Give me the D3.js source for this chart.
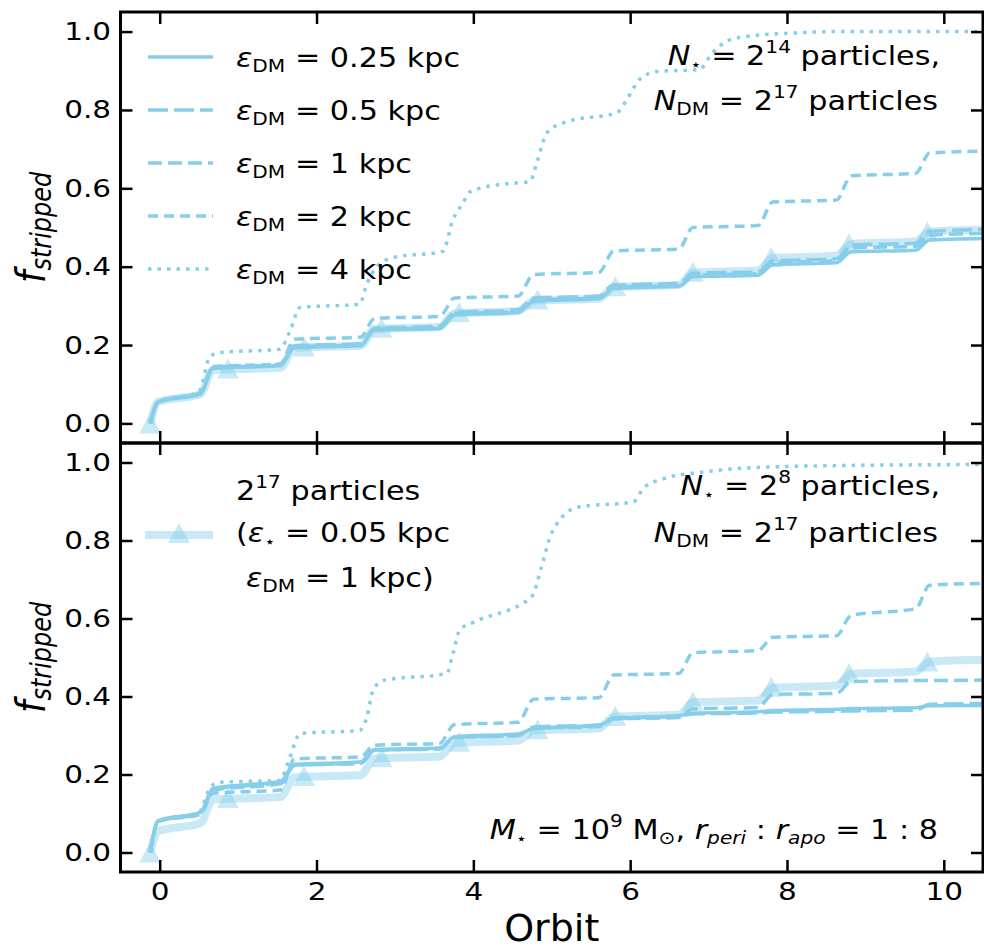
<!DOCTYPE html>
<html>
<head>
<meta charset="utf-8">
<script src="https://cdn.jsdelivr.net/npm/d3@7"></script>
<style>
  body { margin: 0; background: #fff; }
  svg { display: block; font-family: "DejaVu Sans", sans-serif; }
  text { white-space: pre; }
</style>
</head>
<body>
<svg id="chart" width="984" height="949"></svg>
<script>
// orbit positions shared by the step-like curves (start/end of each pericentre jump)
const knotX = [-0.12, -0.02, 0.52, 0.68, 1.54, 1.72, 2.56, 2.74, 3.57, 3.76, 4.57, 4.77,
               5.6, 5.79, 6.62, 6.8, 7.63, 7.82, 8.63, 8.82, 9.64, 9.82, 10.5];

// top panel: N* = 2^14
const topEps025 = [0.0, 0.055, 0.075, 0.14, 0.148, 0.193, 0.198, 0.238, 0.242, 0.277, 0.283, 0.312,
                   0.318, 0.345, 0.35, 0.374, 0.378, 0.405, 0.41, 0.438, 0.442, 0.468, 0.472];
const topEps05  = [0.0, 0.055, 0.078, 0.143, 0.15, 0.198, 0.203, 0.243, 0.248, 0.283, 0.29, 0.32,
                   0.325, 0.353, 0.357, 0.383, 0.387, 0.415, 0.42, 0.455, 0.46, 0.49, 0.495];
const topEps1   = [0.0, 0.055, 0.077, 0.142, 0.148, 0.196, 0.2, 0.24, 0.245, 0.28, 0.285, 0.315,
                   0.32, 0.348, 0.352, 0.378, 0.382, 0.41, 0.415, 0.448, 0.452, 0.48, 0.485];
const topEps2   = [0.0, 0.055, 0.078, 0.145, 0.152, 0.215, 0.22, 0.268, 0.273, 0.32, 0.325, 0.38,
                   0.385, 0.44, 0.445, 0.5, 0.505, 0.565, 0.57, 0.632, 0.638, 0.69, 0.695];
const topEps4X  = [-0.12, -0.02, 0.5, 0.64, 0.77, 1.53, 1.66, 1.79, 2.55, 2.64, 2.77, 2.97, 3.61, 3.74,
                   3.87, 3.95, 4.34, 4.72, 4.81, 4.94, 5.19, 5.83, 5.96, 6.12, 6.34, 6.88, 7.05, 7.23,
                   7.39, 8.16, 8.58, 10.5];
const topEps4Y  = [0.0, 0.055, 0.08, 0.171, 0.181, 0.189, 0.235, 0.296, 0.304, 0.355, 0.40, 0.423,
                   0.439, 0.52, 0.563, 0.59, 0.61, 0.617, 0.666, 0.742, 0.77, 0.793, 0.827, 0.878,
                   0.898, 0.903, 0.946, 0.975, 0.985, 0.997, 1.0, 1.0];

// bottom panel: N* = 2^8
const botEps025 = [0.0, 0.082, 0.103, 0.165, 0.183, 0.226, 0.232, 0.264, 0.268, 0.297, 0.304, 0.318,
                   0.326, 0.343, 0.351, 0.357, 0.361, 0.364, 0.367, 0.369, 0.371, 0.376, 0.377];
const botEps05  = [0.0, 0.08, 0.1, 0.162, 0.18, 0.224, 0.229, 0.262, 0.266, 0.295, 0.3, 0.322,
                   0.327, 0.345, 0.35, 0.355, 0.358, 0.36, 0.362, 0.363, 0.365, 0.38, 0.382];
const botEps1   = [0.0, 0.08, 0.1, 0.16, 0.176, 0.224, 0.228, 0.262, 0.266, 0.296, 0.3, 0.318,
                   0.323, 0.343, 0.346, 0.368, 0.372, 0.405, 0.408, 0.438, 0.441, 0.441, 0.442];
const botEps2   = [0.0, 0.08, 0.098, 0.152, 0.16, 0.24, 0.245, 0.275, 0.28, 0.328, 0.334, 0.393,
                   0.397, 0.455, 0.459, 0.512, 0.518, 0.552, 0.556, 0.608, 0.625, 0.685, 0.69];
const botEps4X  = [-0.12, -0.02, 0.5, 0.64, 0.75, 1.53, 1.66, 1.79, 2.55, 2.64, 2.72, 2.85, 3.66,
                   3.74, 3.83, 4.0, 4.74, 4.87, 5.0, 5.34, 6.04, 6.17, 6.39, 6.99, 8.03, 10.5];
const botEps4Y  = [0.0, 0.082, 0.103, 0.165, 0.18, 0.185, 0.244, 0.305, 0.313, 0.346, 0.415, 0.441,
                   0.459, 0.51, 0.572, 0.59, 0.655, 0.733, 0.82, 0.886, 0.899, 0.934, 0.956, 0.977,
                   0.99, 0.995];

// reference run: 2^17 particles (eps* = 0.05 kpc, epsDM = 1 kpc), same in both panels
const refLevels = [0.0, 0.055, 0.075, 0.136, 0.142, 0.193, 0.198, 0.241, 0.246, 0.281, 0.287, 0.313,
                   0.318, 0.348, 0.353, 0.385, 0.39, 0.422, 0.428, 0.458, 0.464, 0.489, 0.494];
const refMarkX = [-0.12, 0.87, 1.84, 2.83, 3.82, 4.82, 5.81, 6.8, 7.8, 8.79, 9.79];
const refMarkY = [0.0, 0.14, 0.196, 0.244, 0.284, 0.316, 0.35, 0.387, 0.425, 0.46, 0.49];

const xTicks = [0, 2, 4, 6, 8, 10];
const yTicks = [0, 0.2, 0.4, 0.6, 0.8, 1.0];
const epsLabels = ["0.25", "0.5", "1", "2", "4"];

const config = {
    color: "#87ceeb",
    lineWidth: 3.5,
    dashes: ["none", "20,6", "14,6", "10,6", "3.5,6"],
    left: 120.5, right: 983,
    panels: [{top: 12, bottom: 443}, {top: 443, bottom: 872}],
    xDomain: [-0.5, 10.5],
    yDomain: [-0.05, 1.05],
    tickLen: 12,
    textSize: 27,
    stretch: 1.12   // the figure's text is a bit wide
};

const svg = d3.select("#chart");

const rich = (sel, x, y, parts, anchor, size) => {
    const t = sel.append("g")
        .attr("transform", `translate(${x},${y}) scale(${config.stretch},1)`)
        .append("text")
        .attr("text-anchor", anchor || "start")
        .attr("font-size", size || config.textSize)
        .attr("fill", "#000");
    let shift = 0;
    parts.forEach(p => {
        const s = p.shift || 0;
        const ts = t.append("tspan").text(p.t).attr("dy", s - shift);
        if (p.i) ts.attr("font-style", "italic");
        if (p.size) ts.attr("font-size", p.size);
        shift = s;
    });
    return t;
};

const tri = (w, h) => `M0,${-h / 2}L${w / 2},${h / 2}L${-w / 2},${h / 2}Z`;

function drawPanel(idx, steps, dotX, dotY, showXLabels) {
    const p = config.panels[idx];
    const x = d3.scaleLinear().domain(config.xDomain).range([config.left, config.right]);
    const y = d3.scaleLinear().domain(config.yDomain).range([p.bottom, p.top]);
    const g = svg.append("g");

    g.append("clipPath").attr("id", "clip" + idx)
        .append("rect")
        .attr("x", config.left).attr("y", p.top)
        .attr("width", config.right - config.left).attr("height", p.bottom - p.top);

    const line = d3.line()
        .x(d => x(d[0]))
        .y(d => y(d[1]))
        .curve(d3.curveMonotoneX);

    const plot = g.append("g").attr("clip-path", `url(#clip${idx})`);

    // reference run
    plot.append("path")
        .attr("d", line(knotX.map((k, i) => [k, refLevels[i]])))
        .attr("fill", "none")
        .attr("stroke", config.color)
        .attr("stroke-opacity", 0.45)
        .attr("stroke-width", 8);
    plot.selectAll("path.mark")
        .data(refMarkX.map((k, i) => [k, refMarkY[i]]))
        .join("path")
        .attr("class", "mark")
        .attr("transform", d => `translate(${x(d[0])},${y(d[1])})`)
        .attr("d", tri(22, 20))
        .attr("fill", config.color)
        .attr("fill-opacity", 0.45);

    // softening runs
    const series = steps.map(levels => knotX.map((k, i) => [k, levels[i]]));
    series.push(dotX.map((k, i) => [k, dotY[i]]));
    plot.selectAll("path.run")
        .data(series)
        .join("path")
        .attr("class", "run")
        .attr("d", line)
        .attr("fill", "none")
        .attr("stroke", config.color)
        .attr("stroke-width", config.lineWidth)
        .attr("stroke-dasharray", (d, i) => config.dashes[i]);

    // axes, ticks pointing inwards on all four sides
    const styleAxis = a => {
        a.select(".domain").remove();
        a.selectAll(".tick line").attr("stroke", "#000").attr("stroke-width", 2.5);
        a.selectAll(".tick text").attr("fill", "#000")
            .attr("font-size", 25).attr("font-family", "DejaVu Sans, sans-serif")
            .attr("transform", "scale(1.18,1)");
    };
    g.append("g")
        .attr("transform", `translate(0,${p.bottom})`)
        .call(d3.axisBottom(x).tickValues(xTicks).tickSizeInner(-config.tickLen).tickSizeOuter(0)
            .tickPadding(10).tickFormat(showXLabels ? d3.format("d") : () => ""))
        .call(styleAxis);
    g.append("g")
        .attr("transform", `translate(0,${p.top})`)
        .call(d3.axisTop(x).tickValues(xTicks).tickSizeInner(-config.tickLen).tickSizeOuter(0)
            .tickFormat(() => ""))
        .call(styleAxis);
    g.append("g")
        .attr("transform", `translate(${config.left},0)`)
        .call(d3.axisLeft(y).tickValues(yTicks).tickSizeInner(-config.tickLen).tickSizeOuter(0)
            .tickPadding(8).tickFormat(d3.format(".1f")))
        .call(styleAxis);
    g.append("g")
        .attr("transform", `translate(${config.right},0)`)
        .call(d3.axisRight(y).tickValues(yTicks).tickSizeInner(-config.tickLen).tickSizeOuter(0)
            .tickFormat(() => ""))
        .call(styleAxis);

    g.append("rect")
        .attr("x", config.left).attr("y", p.top)
        .attr("width", config.right - config.left).attr("height", p.bottom - p.top)
        .attr("fill", "none").attr("stroke", "#000").attr("stroke-width", 3);

    // y label
    const cy = (p.top + p.bottom) / 2;
    const lab = svg.append("g").attr("transform", `translate(45,${cy}) scale(1.15,1) rotate(-90)`);
    const t = lab.append("text").attr("text-anchor", "middle").attr("font-size", 36).attr("fill", "#000");
    t.append("tspan").text("f").attr("font-style", "italic");
    t.append("tspan").text("stripped").attr("font-style", "italic").attr("font-size", 24).attr("dy", 5);

    return g;
}

const gTop = drawPanel(0, [topEps025, topEps05, topEps1, topEps2], topEps4X, topEps4Y, false);
const gBot = drawPanel(1, [botEps025, botEps05, botEps1, botEps2], botEps4X, botEps4Y, true);

// legend, top panel
epsLabels.forEach((lab, i) => {
    const ly = 57 + 53 * i;
    gTop.append("line")
        .attr("x1", 148).attr("x2", 213).attr("y1", ly).attr("y2", ly)
        .attr("stroke", config.color).attr("stroke-width", config.lineWidth)
        .attr("stroke-dasharray", config.dashes[i]);
    rich(gTop, 236, ly + 10, [{t: "ε", i: 1}, {t: "DM", size: 18, shift: 5}, {t: " = " + lab + " kpc"}]);
});

// legend, bottom panel
gBot.append("line")
    .attr("x1", 145).attr("x2", 213).attr("y1", 535).attr("y2", 535)
    .attr("stroke", config.color).attr("stroke-opacity", 0.45).attr("stroke-width", 8);
gBot.append("path")
    .attr("transform", "translate(179,533)")
    .attr("d", tri(22, 20))
    .attr("fill", config.color).attr("fill-opacity", 0.45);
rich(gBot, 236, 500, [{t: "2"}, {t: "17", size: 18, shift: -12}, {t: " particles"}]);
rich(gBot, 236, 542, [{t: "("}, {t: "ε", i: 1}, {t: "⋆", size: 16, shift: 5}, {t: " = 0.05 kpc"}]);
rich(gBot, 246, 587, [{t: "ε", i: 1}, {t: "DM", size: 18, shift: 5}, {t: " = 1 kpc)"}]);

// annotations
rich(gTop, 940, 65, [{t: "N", i: 1}, {t: "⋆", size: 16, shift: 5}, {t: " = 2"},
    {t: "14", size: 18, shift: -12}, {t: " particles,"}], "end");
rich(gTop, 938, 110, [{t: "N", i: 1}, {t: "DM", size: 18, shift: 5}, {t: " = 2"},
    {t: "17", size: 18, shift: -12}, {t: " particles"}], "end");
rich(gBot, 940, 495, [{t: "N", i: 1}, {t: "⋆", size: 16, shift: 5}, {t: " = 2"},
    {t: "8", size: 18, shift: -12}, {t: " particles,"}], "end");
rich(gBot, 938, 542, [{t: "N", i: 1}, {t: "DM", size: 18, shift: 5}, {t: " = 2"},
    {t: "17", size: 18, shift: -12}, {t: " particles"}], "end");
rich(gBot, 938, 839, [{t: "M", i: 1}, {t: "⋆", size: 16, shift: 5}, {t: " = 10"},
    {t: "9", size: 18, shift: -12}, {t: " M"}, {t: "⊙", size: 18, shift: 5}, {t: ", "},
    {t: "r", i: 1}, {t: "peri", i: 1, size: 18, shift: 5}, {t: " : "},
    {t: "r", i: 1}, {t: "apo", i: 1, size: 18, shift: 5}, {t: " = 1 : 8"}], "end");

// x label
svg.append("text")
    .attr("x", (config.left + config.right) / 2).attr("y", 941)
    .attr("text-anchor", "middle").attr("font-size", 38).attr("fill", "#000")
    .text("Orbit");
</script>
</body>
</html>
